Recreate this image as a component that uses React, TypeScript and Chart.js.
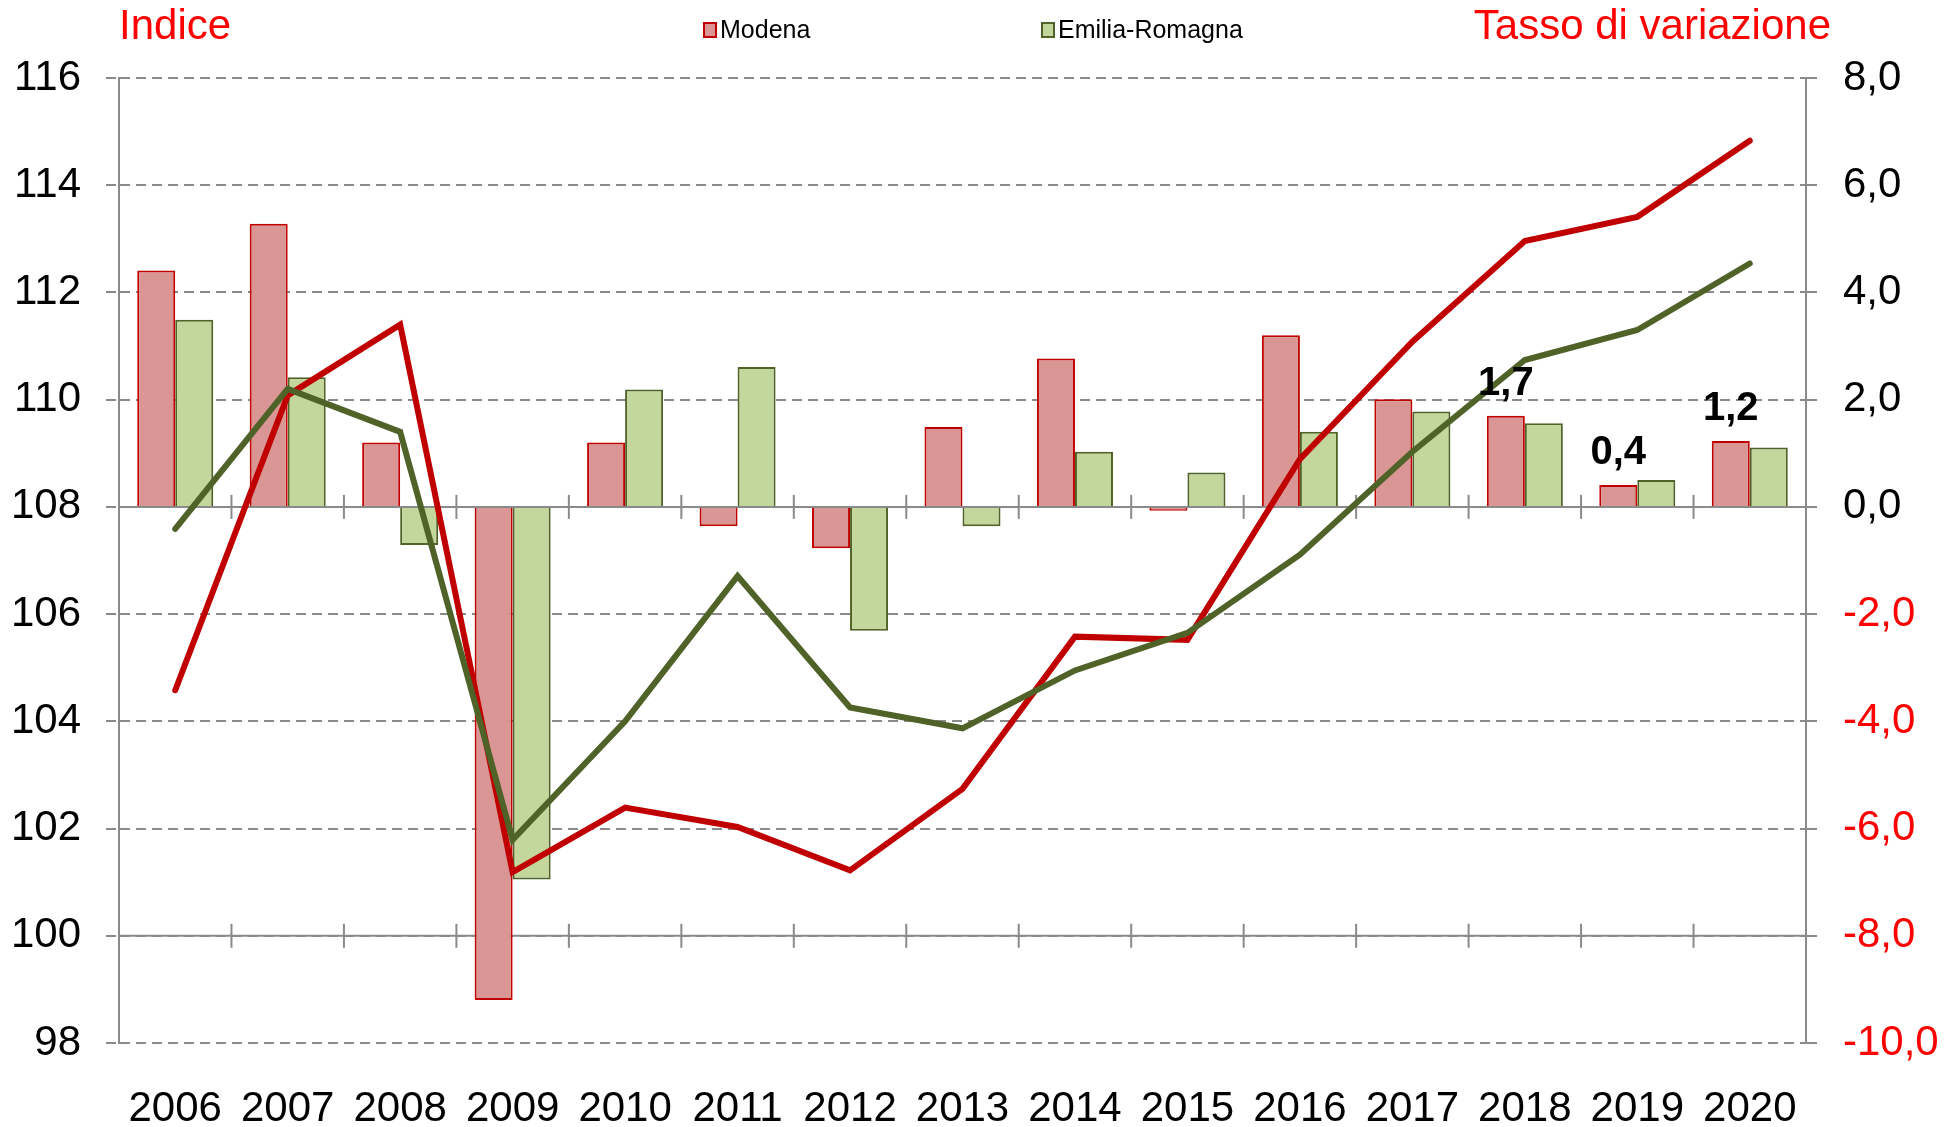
import React, { useEffect, useRef } from 'react';
import { Chart, registerables } from 'chart.js';

Chart.register(...registerables);

// ---- Data ----
const years = ['2006', '2007', '2008', '2009', '2010', '2011', '2012', '2013', '2014', '2015', '2016', '2017', '2018', '2019', '2020'];
// Tasso di variazione (right axis, bars)
const modenaRate = [4.41, 5.28, 1.2, -9.2, 1.2, -0.36, -0.77, 1.49, 2.77, -0.07, 3.2, 2.01, 1.7, 0.41, 1.23];
const emiliaRate = [3.49, 2.42, -0.71, -6.95, 2.19, 2.61, -2.31, -0.36, 1.03, 0.64, 1.4, 1.78, 1.56, 0.5, 1.11];
// Indice (left axis, lines)
const modenaIndex = [104.58, 110.08, 111.4, 101.19, 102.39, 102.03, 101.22, 102.74, 105.58, 105.52, 108.89, 111.08, 112.96, 113.41, 114.83];
const emiliaIndex = [107.59, 110.2, 109.4, 101.79, 104.0, 106.71, 104.26, 103.87, 104.95, 105.65, 107.11, 109.03, 110.74, 111.3, 112.54];
// Years whose Modena bar carries a value label
const labelledYears = ['2018', '2019', '2020'];

const seriesNames = ['Modena', 'Emilia-Romagna'];
const leftTitle = 'Indice';
const rightTitle = 'Tasso di variazione';

// ---- Styles ----
const FONT = '"Liberation Sans", Arial, Helvetica, sans-serif';
const GRID = '#8a8a8a';
const RED_LINE = '#C00000';
const GREEN_LINE = '#4F6228';
const RED_FILL = '#D99694';
const GREEN_FILL = '#C3D69B';
const TITLE_RED = '#FF0000';

const fmt1 = (v: number) => v.toFixed(1).replace('.', ',');

const axisLinesPlugin = {
  id: 'axisLines',
  beforeDatasetsDraw(chart: any) {
    const { ctx, chartArea, scales } = chart;
    const x = scales.x;
    const n = years.length;
    const lines = [scales.y1.getPixelForValue(0), scales.y.getPixelForValue(100)];
    ctx.save();
    ctx.strokeStyle = GRID;
    ctx.lineWidth = 2;
    ctx.setLineDash([]);
    lines.forEach((py: number) => {
      ctx.beginPath();
      ctx.moveTo(chartArea.left, py);
      ctx.lineTo(chartArea.right, py);
      ctx.stroke();
      for (let i = 1; i < n; i++) {
        const px = x.getPixelForValue(i - 0.5);
        ctx.beginPath();
        ctx.moveTo(px, py - 12);
        ctx.lineTo(px, py + 12);
        ctx.stroke();
      }
    });
    ctx.restore();
  },
};

const labelsPlugin = {
  id: 'valueLabels',
  afterDatasetsDraw(chart: any) {
    const { ctx } = chart;
    const meta = chart.getDatasetMeta(2);
    ctx.save();
    ctx.font = `bold 40px ${FONT}`;
    ctx.fillStyle = '#000000';
    ctx.textAlign = 'center';
    ctx.textBaseline = 'alphabetic';
    labelledYears.forEach((yr) => {
      const idx = years.indexOf(yr);
      const bar = meta.data[idx];
      if (!bar) return;
      ctx.fillText(fmt1(modenaRate[idx]), bar.x, bar.y - 21);
    });
    ctx.restore();
  },
};

const headerPlugin = {
  id: 'header',
  afterDraw(chart: any) {
    const { ctx, chartArea, width } = chart;
    ctx.save();
    // axis titles
    ctx.font = `42px ${FONT}`;
    ctx.fillStyle = TITLE_RED;
    ctx.textBaseline = 'alphabetic';
    ctx.textAlign = 'left';
    ctx.fillText(leftTitle, chartArea.left, 39);
    ctx.textAlign = 'right';
    ctx.fillText(rightTitle, chartArea.right + 25, 39);
    // legend
    const cx = width / 2;
    const items = [
      { name: seriesNames[0], fill: RED_FILL, stroke: RED_LINE, x: cx - 276 },
      { name: seriesNames[1], fill: GREEN_FILL, stroke: GREEN_LINE, x: cx + 62 },
    ];
    ctx.font = `25px ${FONT}`;
    ctx.textAlign = 'left';
    ctx.textBaseline = 'middle';
    items.forEach((it) => {
      ctx.fillStyle = it.fill;
      ctx.fillRect(it.x, 23, 12, 14);
      ctx.strokeStyle = it.stroke;
      ctx.lineWidth = 2;
      ctx.strokeRect(it.x, 23, 12, 14);
      ctx.fillStyle = '#000000';
      ctx.fillText(it.name, it.x + 16, 31);
    });
    ctx.restore();
  },
};

export default function App() {
  const canvasRef = useRef<HTMLCanvasElement | null>(null);

  useEffect(() => {
    document.body.style.margin = '0';
    const canvas = canvasRef.current;
    if (!canvas) return;
    const chart = new Chart(canvas, {
      type: 'bar',
      data: {
        labels: years,
        datasets: [
          {
            type: 'line',
            label: 'Emilia-Romagna indice',
            data: emiliaIndex,
            yAxisID: 'y',
            borderColor: GREEN_LINE,
            backgroundColor: GREEN_LINE,
            borderWidth: 6,
            pointRadius: 0,
            tension: 0,
            borderJoinStyle: 'miter',
            borderCapStyle: 'round',
            order: 0,
          } as any,
          {
            type: 'line',
            label: 'Modena indice',
            data: modenaIndex,
            yAxisID: 'y',
            borderColor: RED_LINE,
            backgroundColor: RED_LINE,
            borderWidth: 6,
            pointRadius: 0,
            tension: 0,
            borderJoinStyle: 'miter',
            borderCapStyle: 'round',
            order: 1,
          } as any,
          {
            type: 'bar',
            label: seriesNames[0],
            data: modenaRate,
            yAxisID: 'y1',
            backgroundColor: RED_FILL,
            borderColor: RED_LINE,
            borderWidth: 2,
            categoryPercentage: 0.676,
            barPercentage: 1.0,
            order: 2,
          } as any,
          {
            type: 'bar',
            label: seriesNames[1],
            data: emiliaRate,
            yAxisID: 'y1',
            backgroundColor: GREEN_FILL,
            borderColor: GREEN_LINE,
            borderWidth: 2,
            categoryPercentage: 0.676,
            barPercentage: 1.0,
            order: 2,
          } as any,
        ],
      },
      options: {
        animation: false,
        responsive: true,
        maintainAspectRatio: false,
        layout: { padding: { top: 78, left: 0, right: 0, bottom: 0 } },
        plugins: {
          legend: { display: false },
          tooltip: { enabled: false },
        },
        scales: {
          x: {
            type: 'category',
            offset: true,
            grid: { display: false },
            border: { display: false },
            ticks: {
              autoSkip: false,
              maxRotation: 0,
              minRotation: 0,
              padding: 33,
              color: '#000000',
              font: { family: FONT, size: 42 },
            },
            afterFit: (s: any) => {
              s.height = 84;
            },
          },
          y: {
            type: 'linear',
            position: 'left',
            min: 98,
            max: 116,
            ticks: {
              stepSize: 2,
              padding: 25,
              color: '#000000',
              font: { family: FONT, size: 42 },
              callback: (v: any) => String(v),
            },
            grid: {
              color: GRID,
              lineWidth: 2,
              drawTicks: true,
              tickLength: 13,
              tickColor: GRID,
              tickBorderDash: [10, 6],
            },
            border: { display: true, color: GRID, width: 2, dash: [10, 6] },
            afterFit: (s: any) => {
              s.width = 119;
            },
          },
          y1: {
            type: 'linear',
            position: 'right',
            min: -10,
            max: 8,
            ticks: {
              stepSize: 2,
              padding: 24,
              font: { family: FONT, size: 42 },
              color: (c: any) => (c.tick && c.tick.value < 0 ? TITLE_RED : '#000000'),
              callback: (v: any) => fmt1(Number(v)),
            },
            grid: {
              drawOnChartArea: false,
              drawTicks: true,
              tickLength: 13,
              tickColor: GRID,
              lineWidth: 2,
              tickBorderDash: [10, 6],
            },
            border: { display: true, color: GRID, width: 2 },
            afterFit: (s: any) => {
              s.width = 154;
            },
          },
        },
      } as any,
      plugins: [axisLinesPlugin, labelsPlugin, headerPlugin],
    });
    return () => chart.destroy();
  }, []);

  return (
    <div style={{ position: 'absolute', left: 0, top: 0, width: '1960px', height: '1127px' }}>
      <canvas ref={canvasRef} />
    </div>
  );
}
